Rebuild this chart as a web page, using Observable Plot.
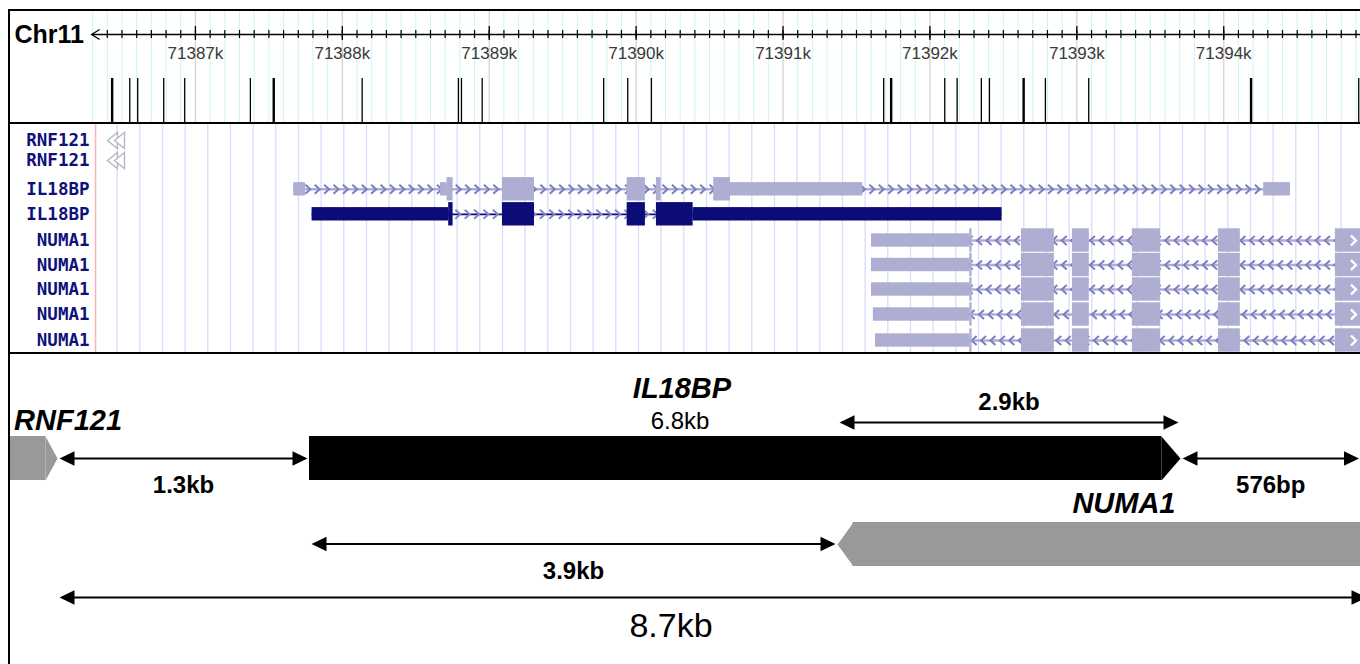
<!DOCTYPE html>
<html>
<head>
<meta charset="utf-8">
<script src="https://cdn.jsdelivr.net/npm/d3@7"></script>
<script src="https://cdn.jsdelivr.net/npm/@observablehq/plot@0.6"></script>
<style>
  html, body { margin: 0; padding: 0; background: #fff; overflow: hidden; }
  #figure { position: relative; width: 1360px; height: 664px; overflow: hidden; background: #fff; }
  #figure svg { position: absolute; left: 0; }
  .rule { position: absolute; background: #000; }
</style>
</head>
<body>
<div id="figure"></div>
<script>
// ---------- Genome window on chromosome 11 (bp) ----------
const chromName = "Chr11";
const viewRange = [71385673, 71394931];
const imageStart = 71386320;
const kbTicks = [71387000, 71388000, 71389000, 71390000, 71391000, 71392000, 71393000, 71394000];

// Variant sites shown under the ruler; heavier ones flagged
const variantPos = [71386433, 71386553, 71386607, 71386784, 71386927, 71387374, 71387533, 71388135,
  71388790, 71388811, 71388952, 71389779, 71389943, 71390104, 71391685, 71391736, 71392101,
  71392185, 71392350, 71392405, 71392638, 71392786, 71393081, 71394186, 71394919];
const variantBold = [true, false, false, false, false, false, true, false,
  false, false, false, false, false, false, false, true, false,
  false, false, false, true, false, false, true, false];

// Gene track labels, top to bottom
const trackNames = ["RNF121", "RNF121", "IL18BP", "IL18BP", "NUMA1", "NUMA1", "NUMA1", "NUMA1", "NUMA1"];

// RNF121 3' ends poking into the window (minus strand)
const rnf121Tips = [71386401, 71386449];

// IL18BP transcripts (plus strand)
const il18bpAExons = [[71387669, 71387749], [71388668, 71388754], [71389090, 71389308], [71389939, 71390063],
  [71390138, 71390170], [71390528, 71391542], [71394272, 71394454]];
const il18bpACds = [71388713, 71390642];
const il18bpBExons = [[71387794, 71388754], [71389090, 71389308], [71389939, 71390063], [71390138, 71392491]];
const il18bpBCds = [71388724, 71390388];

// NUMA1 transcripts (minus strand), continuing past the right edge
const numa1Starts = [71391602, 71391602, 71391602, 71391615, 71391629];
const numa1FirstExonEnd = 71392287;
const numa1Exons = [[71392623, 71392847], [71392970, 71393085], [71393378, 71393569],
  [71393964, 71394113], [71394760, 71395400]];
const numa1Cds = [71392271, 71395400];

// ---------- Schematic (kb, measured from the RNF121 end) ----------
const geneNames = ["RNF121", "IL18BP", "NUMA1"];
const geneStart = [-0.25, 1.3, 5.2];
const geneEnd = [0, 8.1, 9.6];
const spanFrom = [0, 1.3, 5.2, 8.1, 0];
const spanTo = [1.3, 5.2, 8.1, 8.676, 8.7];
const spanText = ["1.3kb", "3.9kb", "2.9kb", "576bp", "8.7kb"];
const il18bpLengthText = "6.8kb";

// ---------- Layout ----------
const W = 1360;
const RULER_H = 124, TRACK_H = 228, SCHEME_H = 312;
const AXIS_Y = 34;
const rowY = [16, 36, 64.8, 89.8, 116, 140.5, 165, 190, 216];
const TALL = 11.7, HALF = 6.7;
const SANS = "'Liberation Sans', Arial, Helvetica, sans-serif";
const LIGHT = "#aeaed3", DARK = "#0c0c78", CHEV = "#7d7dc2";

// custom glyphs (tip / centre at the origin)
const chevron = (dir, w, h) => ({draw(c) { c.moveTo(-dir * w / 2, -h / 2); c.lineTo(dir * w / 2, 0); c.lineTo(-dir * w / 2, h / 2); }});
const openChevron = (w, h) => ({draw(c) { c.moveTo(w, -h / 2); c.lineTo(0, 0); c.lineTo(w, h / 2); }});
const head = (dir, len, half) => ({draw(c) { c.moveTo(0, 0); c.lineTo(-dir * len, -half); c.lineTo(-dir * len, half); c.closePath(); }});

const xGenome = {domain: viewRange, range: [0, W]};
const yPixel = {type: "identity", axis: null};

// ---------- Ruler ----------
const grid100 = d3.range(71386300, viewRange[1], 100).filter(d => d % 1000 !== 0);
const minorTicks = d3.range(71386400, viewRange[1], 100);
const variants = variantPos.map((pos, i) => ({pos, bold: variantBold[i]}));

const ruler = Plot.plot({
  width: W, height: RULER_H,
  marginTop: 0, marginLeft: 0, marginRight: 0, marginBottom: RULER_H - AXIS_Y,
  x: xGenome,
  y: yPixel,
  style: {fontFamily: SANS, overflow: "visible"},
  marks: [
    Plot.ruleX(grid100, {y1: 10, y2: RULER_H, stroke: "#cdf4f6", strokeWidth: 1}),
    Plot.ruleX(kbTicks, {y1: 10, y2: RULER_H, stroke: "#d3d3d3", strokeWidth: 1.3}),
    Plot.ruleY([AXIS_Y], {x1: 71386300, x2: viewRange[1], stroke: "#000", strokeWidth: 1.5}),
    Plot.dot([71386300], {x: d => d, y: AXIS_Y, dx: -1, symbol: openChevron(8, 10), stroke: "#000", fill: "none", strokeWidth: 1.3}),
    Plot.ruleX(minorTicks, {y1: AXIS_Y - 4, y2: AXIS_Y + 4, stroke: "#000", strokeWidth: 1.2}),
    Plot.ruleX(kbTicks, {y1: AXIS_Y - 8, y2: AXIS_Y + 6, stroke: "#000", strokeWidth: 1.3}),
    Plot.axisX(kbTicks, {anchor: "bottom", tickSize: 0, tickPadding: 12, label: null,
      tickFormat: d => `${d / 1000}k`, fontSize: 17, fill: "#3a3a3a", fontFamily: SANS}),
    Plot.text([chromName], {frameAnchor: "left", dx: 14, y: AXIS_Y, textAnchor: "start",
      fontSize: 25, fontWeight: "bold", fill: "#000"}),
    Plot.ruleX(variants, {x: "pos", y1: 78, y2: RULER_H, stroke: "#000", strokeWidth: d => d.bold ? 2.4 : 1.3})
  ]
});

// ---------- Gene tracks ----------
function exonPieces(exons, [cs, ce], y) {
  const out = [];
  for (const [a, b] of exons) {
    if (a < cs) out.push({x1: a, x2: Math.min(b, cs), y, thick: false});
    const c1 = Math.max(a, cs), c2 = Math.min(b, ce);
    if (c1 < c2) out.push({x1: c1, x2: c2, y, thick: true});
    if (b > ce) out.push({x1: Math.max(a, ce), x2: b, y, thick: false});
  }
  return out;
}
const txLight = [
  {row: 2, dir: 1, exons: il18bpAExons, cds: il18bpACds},
  ...numa1Starts.map((s, i) => ({row: 4 + i, dir: -1, exons: [[s, numa1FirstExonEnd], ...numa1Exons], cds: numa1Cds}))
];
const txDark = [{row: 3, dir: 1, exons: il18bpBExons, cds: il18bpBCds}];
const span = tx => ({x1: tx.exons[0][0], x2: tx.exons[tx.exons.length - 1][1], y: rowY[tx.row], dir: tx.dir});
const chevronsOf = tx => d3.range(tx.exons[0][0] + 32, tx.exons[tx.exons.length - 1][1], 64)
  .map(x => ({x, y: rowY[tx.row], dir: tx.dir}));
const piecesLight = txLight.flatMap(tx => exonPieces(tx.exons, tx.cds, rowY[tx.row]));
const piecesDark = txDark.flatMap(tx => exonPieces(tx.exons, tx.cds, rowY[tx.row]));
const chevLight = txLight.flatMap(chevronsOf);
const chevDark = txDark.flatMap(chevronsOf);
const guides = d3.range(71386467, viewRange[1], 154.3);
const rnfGlyphs = [0, 1].flatMap(r => rnf121Tips.map(x => ({x, y: rowY[r]})));
const numaRows = numa1Starts.map((s, i) => ({y: rowY[4 + i]}));
const triLeft = {draw(c) { c.moveTo(0, 0); c.lineTo(10, -8); c.lineTo(10, 8); c.closePath(); }};

const tracks = Plot.plot({
  width: W, height: TRACK_H, margin: 0,
  x: {...xGenome, axis: null},
  y: yPixel,
  style: {fontFamily: SANS},
  marks: [
    Plot.ruleX(guides, {y1: 0, y2: TRACK_H, stroke: "#dadafb", strokeWidth: 1.3}),
    Plot.ruleX([imageStart], {y1: 0, y2: TRACK_H, stroke: "#ffb4b4", strokeWidth: 1.6}),
    Plot.text(trackNames, {frameAnchor: "left", dx: 89, y: (d, i) => rowY[i], textAnchor: "end",
      fontFamily: "'DejaVu Sans Mono', monospace", fontWeight: "bold", fontSize: 17.5, fill: "#10107a"}),
    Plot.dot(rnfGlyphs, {x: "x", y: "y", symbol: triLeft, stroke: "#b6b6cb", fill: "#fff", strokeWidth: 1.4}),
    // intron lines
    Plot.ruleY(txLight.map(span), {x1: "x1", x2: "x2", y: "y", stroke: LIGHT, strokeWidth: 2.6}),
    Plot.ruleY(txDark.map(span), {x1: "x1", x2: "x2", y: "y", stroke: DARK, strokeWidth: 1.8}),
    // strand chevrons
    Plot.dot(chevLight.filter(d => d.dir > 0), {x: "x", y: "y", symbol: chevron(1, 5, 9), stroke: CHEV, fill: "none", strokeWidth: 2}),
    Plot.dot(chevLight.filter(d => d.dir < 0), {x: "x", y: "y", symbol: chevron(-1, 5, 9), stroke: CHEV, fill: "none", strokeWidth: 2}),
    Plot.dot(chevDark, {x: "x", y: "y", symbol: chevron(1, 5, 9), stroke: "#8585c8", fill: "none", strokeWidth: 2}),
    // exons: coding parts tall, untranslated parts half height
    Plot.rect(piecesLight, {x1: "x1", x2: "x2", y1: d => d.y - (d.thick ? TALL : HALF), y2: d => d.y + (d.thick ? TALL : HALF), fill: LIGHT}),
    Plot.rect(piecesDark, {x1: "x1", x2: "x2", y1: d => d.y - (d.thick ? TALL : HALF), y2: d => d.y + (d.thick ? TALL : HALF), fill: DARK}),
    // continuation marks where NUMA1 runs off the right edge
    Plot.dot(numaRows, {x: viewRange[1] - 48, y: "y", symbol: chevron(1, 5, 10), stroke: "#fff", fill: "none", strokeWidth: 2.4})
  ]
});

// ---------- Schematic ----------
// The schematic is not to scale: kb positions go through a broken (piecewise) axis.
const breakKb = [0, 1.3, 5.2, 8.1, 8.7];
const breakPx = [57, 309, 837, 1180, 1368];
const broken = d3.scaleLinear().domain(breakKb).range(breakPx);

const GENE_Y = [106, 106, 192], GENE_HALF = 22;
const GENE_FILL = ["#999999", "#000000", "#999999"];
const GENE_TIP = [12, 19, 16];
const GENE_DIR = [1, 1, -1];
const genes = geneNames.map((name, i) => ({name, start: geneStart[i], end: geneEnd[i], y: GENE_Y[i]}));
const SPAN_Y = [106, 191.5, 70, 106, 245];
const SPAN_LABEL_Y = [133, 219, 50, 133, 274];
const spans = spanText.map((label, i) => ({from: spanFrom[i], to: spanTo[i], label, y: SPAN_Y[i], ly: SPAN_LABEL_Y[i]}));
const smallSpans = spans.slice(0, 4), totalSpan = spans.slice(4);
const midOf = (a, b) => broken.invert((broken(a) + broken(b)) / 2);

const geneMarks = genes.flatMap((g, i) => {
  const dir = GENE_DIR[i], tip = GENE_TIP[i];
  return [
    Plot.rect([g], {x1: "start", x2: "end", y1: d => d.y - GENE_HALF, y2: d => d.y + GENE_HALF, fill: GENE_FILL[i],
      insetRight: dir > 0 ? tip - 0.5 : 0, insetLeft: dir < 0 ? tip - 0.5 : 0}),
    Plot.dot([g], {x: dir > 0 ? "end" : "start", y: "y", symbol: head(dir, tip, GENE_HALF), fill: GENE_FILL[i], stroke: "none"})
  ];
});

const scheme = Plot.plot({
  width: W, height: SCHEME_H, margin: 0,
  x: {transform: broken, domain: [breakPx[0], breakPx[breakPx.length - 1]], range: [breakPx[0], breakPx[breakPx.length - 1]], axis: null},
  y: yPixel,
  style: {fontFamily: SANS},
  marks: [
    ...geneMarks,
    // distance arrows
    Plot.ruleY(spans, {x1: "from", x2: "to", y: "y", insetLeft: 6, insetRight: 6, stroke: "#000", strokeWidth: 2}),
    Plot.dot(spans, {x: "from", y: "y", dx: 2, symbol: head(-1, 15, 7.3), fill: "#000", stroke: "none"}),
    Plot.dot(spans, {x: "to", y: "y", dx: -2, symbol: head(1, 15, 7.3), fill: "#000", stroke: "none"}),
    Plot.text(smallSpans, {x: d => midOf(d.from, d.to), y: "ly", text: "label", fontSize: 24, fontWeight: "bold", fill: "#000"}),
    Plot.text(totalSpan, {x: d => midOf(d.from, d.to), y: "ly", dx: -42, text: "label", fontSize: 34, fill: "#000"}),
    // gene names
    Plot.text([genes[0]], {x: "start", y: 68, dx: 5, text: "name", textAnchor: "start", fontSize: 29, fontWeight: "bold", fontStyle: "italic", fill: "#000"}),
    Plot.text([genes[1]], {x: d => midOf(d.start, d.end), y: 36.5, dx: -63, text: "name", fontSize: 29, fontWeight: "bold", fontStyle: "italic", fill: "#000"}),
    Plot.text([genes[1]], {x: d => midOf(d.start, d.end), y: 69, dx: -65, text: () => il18bpLengthText, fontSize: 24, fill: "#000"}),
    Plot.text([genes[2]], {x: () => genes[1].end, y: 151.5, dx: -5, text: "name", textAnchor: "end", fontSize: 29, fontWeight: "bold", fontStyle: "italic", fill: "#000"})
  ]
});

// ---------- Assemble ----------
const fig = document.getElementById("figure");
[[ruler, 0], [tracks, RULER_H], [scheme, RULER_H + TRACK_H]].forEach(([svg, top]) => {
  svg.style.top = top + "px";
  fig.appendChild(svg);
});
// frame lines around and between the panels
[[8, 9, 1352, 2], [8, 9, 2, 655], [8, 122, 1352, 2], [8, 352, 1352, 2]].forEach(([l, t, w, h]) => {
  const d = document.createElement("div");
  d.className = "rule";
  Object.assign(d.style, {left: l + "px", top: t + "px", width: w + "px", height: h + "px"});
  fig.appendChild(d);
});
</script>
</body>
</html>
